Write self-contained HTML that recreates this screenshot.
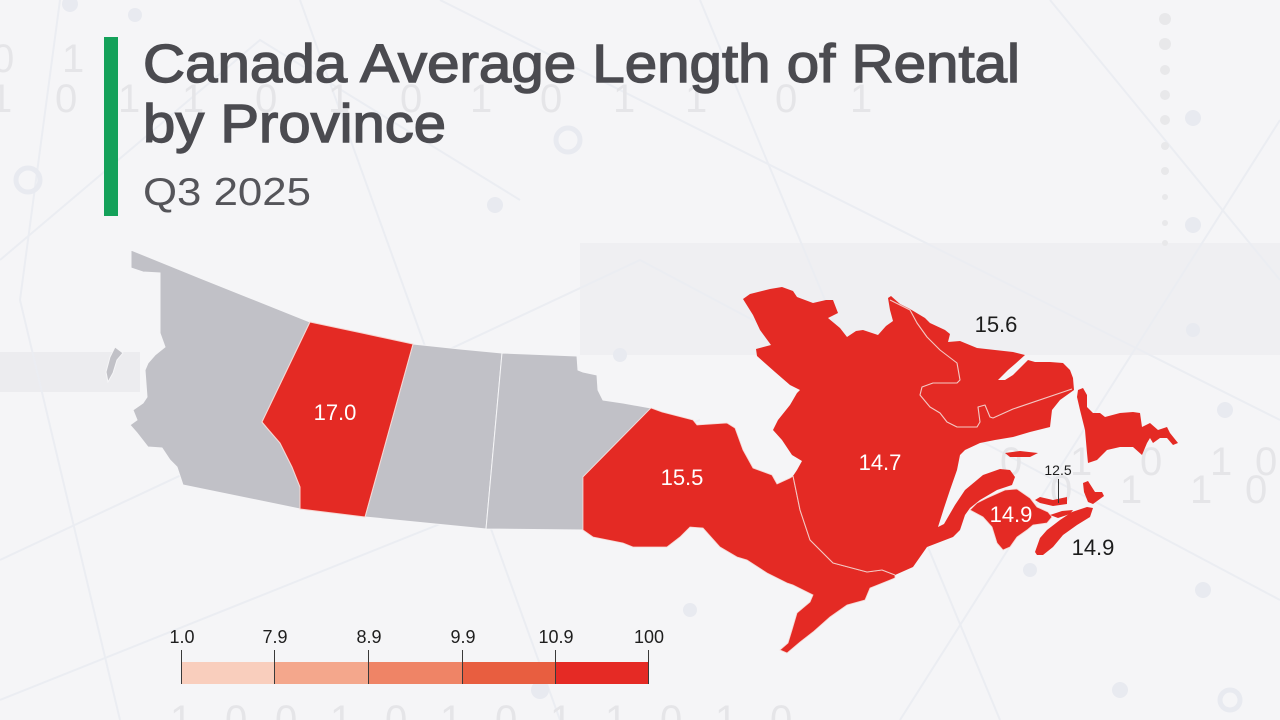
<!DOCTYPE html>
<html>
<head>
<meta charset="utf-8">
<style>
  html,body{margin:0;padding:0;background:#f4f4f6;}
  body{width:1280px;height:720px;overflow:hidden;}
  svg{display:block;}
  text{font-family:"Liberation Sans",sans-serif;}
</style>
</head>
<body>
<svg width="1280" height="720" viewBox="0 0 1280 720" xmlns="http://www.w3.org/2000/svg">
  <!-- background -->
  <rect x="0" y="0" width="1280" height="720" fill="#f5f5f7"/>
  <rect x="580" y="243" width="700" height="112" fill="#efeff2"/>
  <rect x="0" y="352" width="140" height="40" fill="#ececef"/>
  <!-- faint network lines -->
  <g stroke="#ebedf2" stroke-width="2" fill="none">
    <path d="M0,260 L260,40 L520,200"/>
    <path d="M60,0 L20,300 L120,720"/>
    <path d="M300,0 L560,720"/>
    <path d="M700,0 L1000,720"/>
    <path d="M1280,120 L900,720"/>
    <path d="M0,560 L640,260 L1280,600"/>
    <path d="M440,0 L1280,420"/>
    <path d="M0,700 L700,420"/>
    <path d="M1050,0 L1280,280"/>
  </g>
  <g fill="#e8eaf0">
    <circle cx="28" cy="180" r="12" fill="none" stroke="#e8eaf0" stroke-width="5"/>
    <circle cx="568" cy="140" r="12" fill="none" stroke="#e8eaf0" stroke-width="5"/>
    <circle cx="70" cy="4" r="8"/>
    <circle cx="135" cy="15" r="7"/>
    <circle cx="495" cy="205" r="8"/>
    <circle cx="1193" cy="118" r="8"/>
    <circle cx="1193" cy="225" r="8"/>
    <circle cx="1193" cy="330" r="7"/>
    <circle cx="1225" cy="410" r="8"/>
    <circle cx="1203" cy="590" r="8"/>
    <circle cx="1030" cy="570" r="7"/>
    <circle cx="690" cy="610" r="7"/>
    <circle cx="1120" cy="690" r="8"/>
    <circle cx="1230" cy="700" r="10" fill="none" stroke="#e8eaf0" stroke-width="5"/>
    <circle cx="540" cy="690" r="9"/>
    <circle cx="620" cy="355" r="7"/>
    <circle cx="520" cy="380" r="6"/>
  </g>
  <g fill="#e8e8ea">
    <circle cx="1165" cy="19" r="6"/>
    <circle cx="1165" cy="44" r="6"/>
    <circle cx="1165" cy="70" r="5"/>
    <circle cx="1165" cy="95" r="5"/>
    <circle cx="1165" cy="120" r="5"/>
    <circle cx="1165" cy="146" r="4"/>
    <circle cx="1165" cy="171" r="4"/>
    <circle cx="1165" cy="197" r="3"/>
    <circle cx="1165" cy="223" r="3"/>
    <circle cx="1165" cy="243" r="3"/>
  </g>
  <!-- faint binary digits -->
  <g fill="#e5e5e8" font-size="40" font-family="Liberation Sans, sans-serif">
    <text x="-8" y="72">0</text><text x="62" y="72">1</text>
    <text x="-10" y="112">1</text><text x="55" y="112">0</text><text x="118" y="112">1</text>
    <text x="182" y="112">1</text><text x="255" y="112">0</text><text x="328" y="112">1</text>
    <text x="400" y="112">0</text><text x="470" y="112">1</text><text x="540" y="112">0</text>
    <text x="613" y="112">1</text><text x="685" y="112">1</text><text x="775" y="112">0</text>
    <text x="850" y="112">1</text>
    <text x="1000" y="475">0</text><text x="1070" y="475">1</text><text x="1140" y="475">0</text>
    <text x="1210" y="475">1</text><text x="1255" y="475">0</text>
    <text x="1050" y="503">0</text><text x="1120" y="503">1</text><text x="1190" y="503">1</text><text x="1245" y="503">0</text>
    <text x="170" y="733">1</text><text x="225" y="733">0</text><text x="275" y="733">0</text>
    <text x="330" y="733">1</text><text x="385" y="733">0</text><text x="440" y="733">1</text>
    <text x="495" y="733">0</text><text x="550" y="733">1</text><text x="605" y="733">1</text>
    <text x="660" y="733">0</text><text x="715" y="733">1</text><text x="770" y="733">0</text>
  </g>

  <!-- title block -->
  <rect x="104" y="37" width="14" height="179" fill="#14a15a"/>
  <text x="143" y="82" font-size="54" fill="#4b4b50" stroke="#4b4b50" stroke-width="1.4" textLength="877" lengthAdjust="spacingAndGlyphs">Canada Average Length of Rental</text>
  <text x="143" y="142" font-size="54" fill="#4b4b50" stroke="#4b4b50" stroke-width="1.4" textLength="303" lengthAdjust="spacingAndGlyphs">by Province</text>
  <text x="143" y="205" font-size="39" fill="#55555a" textLength="168" lengthAdjust="spacingAndGlyphs">Q3 2025</text>

  <!-- MAP -->
  <g fill="#c1c1c7" stroke="#f5f5f7" stroke-width="1">
    <!-- BC -->
    <path d="M131,250 L200,278 L250,298 L310,322 L262,422 L267,428 L280,443 L292,467 L300,487 L300,509 L183,485 L177,467 L170,460 L162,448 L148,447 L137,433 L130,425 L137,420 L133,410 L143,403 L147,397 L145,370 L148,363 L155,355 L165,347 L160,333 L160,273 L143,272 L131,268 Z"/>
    <!-- Haida Gwaii -->
    <path d="M115,347 L123,353 L117,360 L113,373 L108,382 L106,372 L110,357 Z"/>
    <!-- SK -->
    <path d="M413,344 L460,349 L502,353 L486,529 L365,517 Z"/>
    <!-- MB -->
    <path d="M502,353 L577,356 L578,370 L583,372 L597,375 L598,390 L603,400 L623,403 L651,408 L583,477 L583,530 L486,529 Z"/>
  </g>
  <g fill="#e42a24">
    <!-- AB -->
    <path stroke="#f7d6d2" stroke-width="1" d="M310,322 L362,333 L413,344 L365,517 L300,509 L300,487 L292,467 L280,443 L267,428 L262,422 Z"/>
    <!-- Ontario -->
    <path stroke="#f7d6d2" stroke-width="0.8" d="M651,408 L662,412 L693,420 L697,425 L727,423 L735,428 L743,450 L753,468 L772,475 L777,484 L790,478 L793,476 L800,510 L810,540 L833,563 L867,572 L882,570 L895,575 L895,578 L870,588 L865,600 L847,605 L830,617 L813,632 L800,642 L787,653 L780,650 L788,643 L792,630 L797,613 L810,602 L813,595 L793,585 L787,583 L767,573 L747,560 L737,557 L720,547 L703,528 L690,527 L680,537 L667,547 L633,547 L623,543 L593,537 L583,530 L583,477 Z"/>
    <!-- Quebec + Labrador -->
    <path d="M793,476 L797,470 L802,461 L792,455 L782,440 L773,430 L778,420 L790,405 L797,393 L800,390 L790,385 L775,372 L757,356 L756,349 L771,345 L760,330 L753,315 L743,299 L750,294 L770,289 L782,287 L793,291 L797,297 L813,303 L826,300 L833,300 L838,313 L828,318 L840,328 L847,337 L856,331 L863,330 L878,335 L886,326 L893,321 L890,310 L888,298 L891,296 L900,304 L910,309 L925,318 L930,323 L945,330 L950,334 L948,342 L960,341 L977,348 L995,350 L1013,352 L1025,355 L1015,364 L1008,370 L998,380 L1005,380 L1013,375 L1028,360 L1035,362 L1050,362 L1063,363 L1070,370 L1073,378 L1074,390 L1060,400 L1052,410 L1050,427 L1030,432 L1013,437 L995,440 L980,443 L965,450 L960,455 L957,470 L950,490 L944,508 L938,527 L944,524 L955,505 L965,490 L983,475 L1000,469 L1010,470 L1015,477 L1012,485 L997,490 L980,500 L970,508 L965,515 L960,530 L953,537 L927,547 L913,567 L895,575 L882,570 L867,572 L833,563 L810,540 L800,510 Z"/>
    <!-- Anticosti -->
    <path d="M1005,453 L1020,451 L1038,453 L1030,457 L1010,457 Z"/>
    <!-- NB -->
    <path stroke="#f7d6d2" stroke-width="0.8" d="M970,510 L977,503 L987,498 L1005,490 L1017,489 L1030,498 L1037,507 L1048,512 L1052,517 L1047,523 L1033,525 L1027,530 L1017,537 L1010,547 L1003,550 L997,543 L992,527 L983,517 Z"/>
    <!-- NS -->
    <path d="M1035,552 L1040,538 L1047,530 L1060,520 L1072,512 L1087,507 L1093,508 L1090,517 L1077,525 L1063,535 L1053,547 L1043,555 L1037,555 Z"/>
    <path d="M1050,515 L1062,511 L1073,510 L1070,514 L1058,518 Z"/>
    <!-- Cape Breton -->
    <path d="M1083,483 L1088,481 L1095,492 L1102,492 L1104,496 L1093,504 L1088,502 L1084,492 Z"/>
    <!-- PEI -->
    <path d="M1035,500 L1040,497 L1053,500 L1067,497 L1067,504 L1053,506 L1040,503 Z"/>
    <!-- Newfoundland -->
    <path d="M1077,397 L1078,390 L1083,388 L1087,395 L1087,407 L1093,413 L1100,413 L1105,417 L1120,413 L1133,412 L1140,413 L1142,427 L1150,423 L1158,430 L1167,427 L1170,433 L1178,443 L1173,445 L1167,438 L1160,438 L1153,443 L1150,438 L1147,443 L1142,455 L1133,447 L1120,447 L1107,450 L1097,460 L1088,463 L1087,453 L1085,430 L1080,410 Z"/>
  </g>
  <!-- internal borders -->
  <g fill="none" stroke="#f3c9c4" stroke-width="1.1" stroke-linejoin="round">
    <path d="M793,476 L800,510 L810,540 L833,563 L867,572 L882,570 L895,575"/>
    <path d="M890,300 L910,310 L917,323 L927,337 L940,350 L957,363 L960,380 L957,383 L933,383 L922,387 L920,395 L930,407 L940,413 L947,422 L957,427 L977,427 L980,422 L978,407 L985,405 L990,417 L993,418 L1013,409 L1072,389"/>
  </g>

  <!-- map labels -->
  <g font-size="22" text-anchor="middle">
    <text x="335" y="420" fill="#ffffff">17.0</text>
    <text x="682" y="485" fill="#ffffff">15.5</text>
    <text x="880" y="470" fill="#ffffff">14.7</text>
    <text x="1011" y="522" fill="#ffffff">14.9</text>
    <text x="996" y="332" fill="#1c1c1c">15.6</text>
    <text x="1093" y="555" fill="#1c1c1c">14.9</text>
  </g>
  <text x="1058" y="475" font-size="14" text-anchor="middle" fill="#1c1c1c">12.5</text>
  <line x1="1058.5" y1="479" x2="1058.5" y2="503" stroke="#333" stroke-width="1"/>

  <!-- legend -->
  <rect x="181" y="662" width="93" height="22" fill="#f9cebd"/>
  <rect x="274" y="662" width="94" height="22" fill="#f4a78c"/>
  <rect x="368" y="662" width="94" height="22" fill="#ef8466"/>
  <rect x="462" y="662" width="93" height="22" fill="#e85e40"/>
  <rect x="555" y="662" width="93" height="22" fill="#e52a25"/>
  <g stroke="#3a3a3a" stroke-width="1">
    <line x1="181.5" y1="650" x2="181.5" y2="684"/>
    <line x1="274.5" y1="650" x2="274.5" y2="684"/>
    <line x1="368.5" y1="650" x2="368.5" y2="684"/>
    <line x1="462.5" y1="650" x2="462.5" y2="684"/>
    <line x1="555.5" y1="650" x2="555.5" y2="684"/>
    <line x1="648.5" y1="650" x2="648.5" y2="684"/>
  </g>
  <g font-size="18" text-anchor="middle" fill="#1e1e1e">
    <text x="182" y="643">1.0</text>
    <text x="275" y="643">7.9</text>
    <text x="369" y="643">8.9</text>
    <text x="463" y="643">9.9</text>
    <text x="556" y="643">10.9</text>
    <text x="649" y="643">100</text>
  </g>
</svg>
</body>
</html>
